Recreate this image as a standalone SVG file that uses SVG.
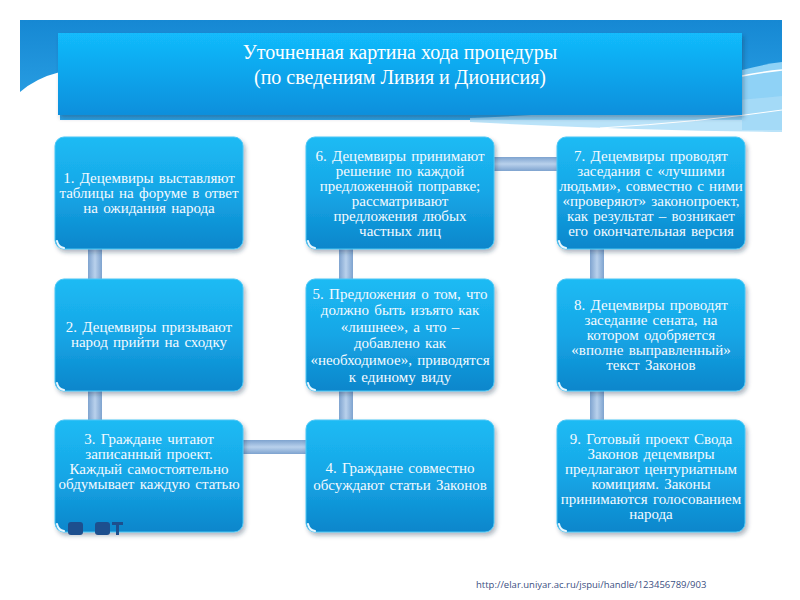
<svg xmlns="http://www.w3.org/2000/svg" width="800" height="600" viewBox="0 0 800 600">
<style>
.box{fill:url(#nodeGrad);stroke:#4cc6f5;stroke-width:1;filter:url(#shadow)}
.t{font-family:"Liberation Serif","Times New Roman",serif;font-size:15px;word-spacing:1.5px;fill:#f4faff;text-anchor:middle}
.bev{fill:none;stroke:#e8f7ff;stroke-width:2;stroke-linecap:round}
.vbar{fill:url(#vbarGrad)}
.hbar{fill:url(#hbarGrad)}
.title{font-family:"Liberation Serif","Times New Roman",serif;font-size:20px;fill:#ffffff;text-anchor:middle}
.url{font-family:"Open Sans","Liberation Sans",sans-serif;font-size:9.5px;fill:#3b4f82}
</style>
<defs>
<linearGradient id="nodeGrad" x1="0" y1="0" x2="0" y2="1">
<stop offset="0" stop-color="#1dbbf4"/>
<stop offset="0.5" stop-color="#16a6e6"/>
<stop offset="1" stop-color="#0b86cb"/>
</linearGradient>
<linearGradient id="titleGrad" x1="0" y1="0" x2="0" y2="1">
<stop offset="0" stop-color="#12bbfc"/>
<stop offset="1" stop-color="#0b8fdc"/>
</linearGradient>
<linearGradient id="bandGrad" x1="0" y1="0" x2="0" y2="1">
<stop offset="0" stop-color="#1688d3"/>
<stop offset="1" stop-color="#2da3e6"/>
</linearGradient>
<linearGradient id="vbarGrad" x1="0" y1="0" x2="1" y2="0">
<stop offset="0" stop-color="#7ea3cf"/>
<stop offset="0.5" stop-color="#b9d1ec"/>
<stop offset="1" stop-color="#7ea3cf"/>
</linearGradient>
<linearGradient id="hbarGrad" x1="0" y1="0" x2="0" y2="1">
<stop offset="0" stop-color="#7ea3cf"/>
<stop offset="0.5" stop-color="#b9d1ec"/>
<stop offset="1" stop-color="#7ea3cf"/>
</linearGradient>
<filter id="shadow" x="-10%" y="-10%" width="125%" height="130%">
<feDropShadow dx="2" dy="3" stdDeviation="2" flood-color="#1a3050" flood-opacity="0.35"/>
</filter>
</defs>
<rect width="800" height="600" fill="#ffffff"/>

<g id="header">
<rect x="20" y="20" width="762" height="100" fill="url(#bandGrad)"/>
<path d="M20,92 Q36,78 60,72 L60,125 L20,125 Z" fill="#ffffff"/>
<path d="M742,70 Q765,64 782,62 L782,130 L742,130 Z" fill="#8fd2f6"/>
<path d="M470,118 Q620,112 782,96 L782,132 Q620,130 470,122 Z" fill="#a9dcf7" opacity="0.8"/>
<path d="M742,76 Q762,72 782,70" fill="none" stroke="#ffffff" stroke-width="1.5"/>
<path d="M600,128 Q700,122 782,110" fill="none" stroke="#ffffff" stroke-width="1"/>
<rect x="58" y="33" width="684" height="82" fill="url(#titleGrad)" filter="url(#shadow)"/>
<text class="title" x="400" y="59">Уточненная картина хода процедуры</text>
<text class="title" x="400" y="84">(по сведениям Ливия и Дионисия)</text>
</g>

<g id="connectors">
<rect class="vbar" x="88" y="245" width="14" height="38"/>
<rect class="vbar" x="88" y="387" width="14" height="37"/>
<rect class="hbar" x="238" y="440" width="72" height="14"/>
<rect class="vbar" x="339" y="387" width="14" height="37"/>
<rect class="vbar" x="339" y="245" width="14" height="38"/>
<rect class="hbar" x="489" y="157" width="72" height="14"/>
<rect class="vbar" x="590" y="245" width="14" height="38"/>
<rect class="vbar" x="590" y="387" width="14" height="37"/>
</g>

<g id="node1">
<rect class="box" x="55" y="137" width="188" height="112" rx="9"/>
<path class="bev" d="M57,241 Q58,247 64,248"/>
<text class="t" x="149" y="183">1. Децемвиры выставляют</text>
<text class="t" x="149" y="198">таблицы на форуме в ответ</text>
<text class="t" x="149" y="213">на ожидания народа</text>
</g>

<g id="node2">
<rect class="box" x="55" y="279" width="188" height="112" rx="9"/>
<path class="bev" d="M57,383 Q58,389 64,390"/>
<text class="t" x="149" y="332">2. Децемвиры призывают</text>
<text class="t" x="149" y="347">народ прийти на сходку</text>
</g>

<g id="node3">
<rect class="box" x="55" y="420" width="188" height="112" rx="9"/>
<path class="bev" d="M57,524 Q58,530 64,531"/>
<text class="t" x="149" y="444">3. Граждане читают</text>
<text class="t" x="149" y="459">записанный проект.</text>
<text class="t" x="149" y="474">Каждый самостоятельно</text>
<text class="t" x="149" y="489">обдумывает каждую статью</text>
<g fill="#1d4f8e">
<rect x="68" y="522" width="15" height="13" rx="3"/>
<rect x="95" y="522" width="15" height="13" rx="3"/>
<rect x="112" y="522" width="11" height="3"/>
<rect x="116" y="522" width="3" height="13"/>
</g>
</g>

<g id="node4">
<rect class="box" x="306" y="420" width="188" height="112" rx="9"/>
<path class="bev" d="M308,524 Q309,530 315,531"/>
<text class="t" x="400" y="473">4. Граждане совместно</text>
<text class="t" x="400" y="490">обсуждают статьи Законов</text>
</g>

<g id="node5">
<rect class="box" x="306" y="279" width="188" height="112" rx="9"/>
<path class="bev" d="M308,383 Q309,389 315,390"/>
<text class="t" x="400" y="299">5. Предложения о том, что</text>
<text class="t" x="400" y="315">должно быть изъято как</text>
<text class="t" x="400" y="332">«лишнее», а что –</text>
<text class="t" x="400" y="348">добавлено как</text>
<text class="t" x="400" y="365">«необходимое», приводятся</text>
<text class="t" x="400" y="382">к единому виду</text>
</g>

<g id="node6">
<rect class="box" x="306" y="137" width="188" height="112" rx="9"/>
<path class="bev" d="M308,241 Q309,247 315,248"/>
<text class="t" x="400" y="161">6. Децемвиры принимают</text>
<text class="t" x="400" y="176">решение по каждой</text>
<text class="t" x="400" y="191">предложенной поправке;</text>
<text class="t" x="400" y="206">рассматривают</text>
<text class="t" x="400" y="221">предложения любых</text>
<text class="t" x="400" y="236">частных лиц</text>
</g>

<g id="node7">
<rect class="box" x="557" y="137" width="188" height="112" rx="9"/>
<path class="bev" d="M559,241 Q560,247 566,248"/>
<text class="t" x="651" y="161">7. Децемвиры проводят</text>
<text class="t" x="651" y="176">заседания с «лучшими</text>
<text class="t" x="651" y="191">людьми», совместно с ними</text>
<text class="t" x="651" y="206">«проверяют» законопроект,</text>
<text class="t" x="651" y="221">как результат – возникает</text>
<text class="t" x="651" y="236">его окончательная версия</text>
</g>

<g id="node8">
<rect class="box" x="557" y="279" width="188" height="112" rx="9"/>
<path class="bev" d="M559,383 Q560,389 566,390"/>
<text class="t" x="651" y="310">8. Децемвиры проводят</text>
<text class="t" x="651" y="325">заседание сената, на</text>
<text class="t" x="651" y="340">котором одобряется</text>
<text class="t" x="651" y="355">«вполне выправленный»</text>
<text class="t" x="651" y="370">текст Законов</text>
</g>

<g id="node9">
<rect class="box" x="557" y="420" width="188" height="112" rx="9"/>
<path class="bev" d="M559,524 Q560,530 566,531"/>
<text class="t" x="651" y="444">9. Готовый проект Свода</text>
<text class="t" x="651" y="459">Законов децемвиры</text>
<text class="t" x="651" y="474">предлагают центуриатным</text>
<text class="t" x="651" y="489">комициям. Законы</text>
<text class="t" x="651" y="504">принимаются голосованием</text>
<text class="t" x="651" y="519">народа</text>
</g>

<text class="url" x="476" y="588">http://elar.uniyar.ac.ru/jspui/handle/123456789/903</text>
</svg>
